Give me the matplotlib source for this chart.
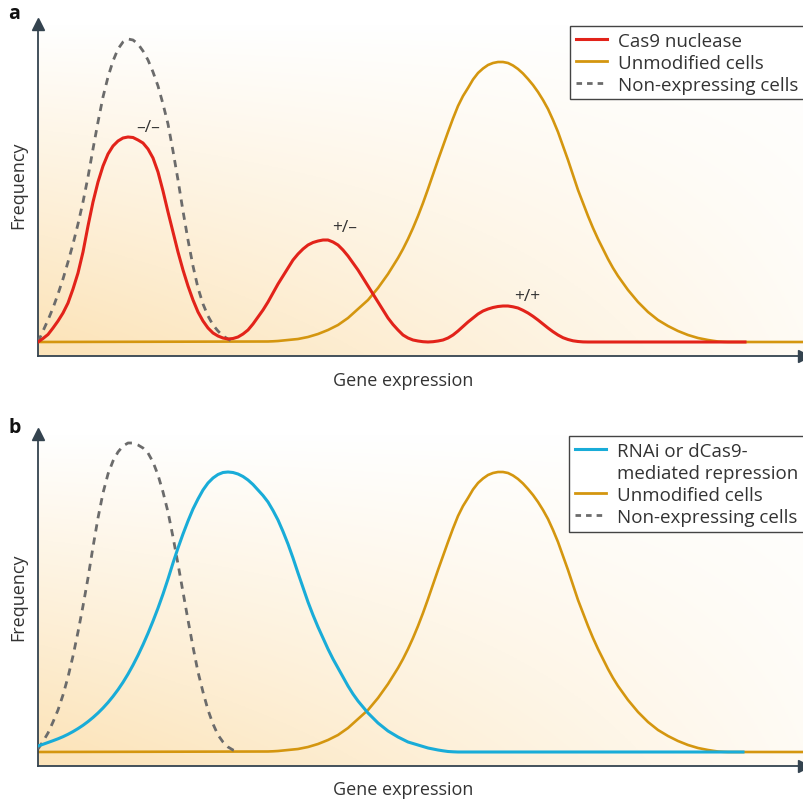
import matplotlib.pyplot as plt
import numpy as np
from matplotlib.lines import Line2D

plt.rcParams['font.family'] = ['Open Sans', 'DejaVu Sans']

# values, gene expression in arbitrary units,
# read every half unit
cas9 = [0, 0.35, 0.75, 1.4, 2.1, 2.9, 3.9, 5.3, 6.9, 9.0, 11.6, 14.0, 16.0, 17.6,
        18.8, 19.6, 20.1, 20.4, 20.5, 20.45, 20.2, 19.9, 19.3, 18.4, 17.0, 15.1,
        13.0, 11.0, 9.0, 7.2, 5.6, 4.2, 3.0, 2.1, 1.4, 0.9, 0.6, 0.4, 0.3, 0.35,
        0.5, 0.8, 1.2, 1.8, 2.5, 3.2, 4.0, 4.9, 5.8, 6.6, 7.4, 8.2, 8.8, 9.3, 9.7,
        9.95, 10.1, 10.2, 10.2, 10.0, 9.7, 9.2, 8.6, 7.9, 7.2, 6.4, 5.6, 4.8, 4.0,
        3.2, 2.4, 1.75, 1.2, 0.7, 0.4, 0.2, 0.1, 0.03, 0, 0.03, 0.1, 0.2, 0.4, 0.7,
        1.1, 1.55, 2.0, 2.4, 2.8, 3.1, 3.3, 3.45, 3.55, 3.6, 3.6, 3.52, 3.4, 3.17,
        2.9, 2.57, 2.2, 1.8, 1.4, 1.03, 0.7, 0.43, 0.25, 0.12, 0.05, 0.01, 0]
cas9_end = 70.7

non_expr_a = [0, 1.1, 2.2, 3.4, 4.8, 6.3, 8.0, 9.8, 11.8, 14.0, 16.5, 19.3, 22.0,
              24.5, 26.5, 28.1, 29.3, 30.0, 30.3, 30.2, 29.8, 29.1, 28.2, 27.0, 25.6,
              23.8, 21.8, 19.1, 16.2, 13.1, 10.2, 7.6, 5.4, 3.8, 2.6, 1.7, 1.1, 0.6,
              0.3, 0]

non_expr_b = [0.3, 1.05, 1.9, 3.0, 4.2, 5.7, 7.5, 9.6, 12.0, 14.6, 17.4, 20.5, 23.4,
              25.9, 27.8, 29.1, 30.0, 30.6, 30.9, 30.9, 30.7, 30.4, 29.9, 29.0, 27.7,
              26.0, 24.0, 21.5, 18.8, 16.0, 13.2, 10.5, 8.0, 6.0, 4.2, 2.8, 1.7, 1.0,
              0.5, 0.2, 0.05]

unmod_start = 23
unmodified = [0.05, 0.07, 0.1, 0.15, 0.2, 0.25, 0.3, 0.4, 0.5, 0.65, 0.8, 1.0, 1.2,
              1.45, 1.7, 2.05, 2.4, 2.85, 3.3, 3.75, 4.2, 4.8, 5.4, 6.1, 6.8, 7.6, 8.4,
              9.3, 10.3, 11.4, 12.6, 13.9, 15.3, 16.75, 18.2, 19.6, 21.0, 22.35, 23.6,
              24.6, 25.4, 26.25, 26.9, 27.35, 27.7, 27.9, 28.0, 28.0, 27.9, 27.65,
              27.3, 26.85, 26.3, 25.7, 25.0, 24.2, 23.3, 22.2, 21.0, 19.6, 18.2, 16.7,
              15.2, 13.9, 12.6, 11.4, 10.3, 9.3, 8.3, 7.4, 6.6, 5.9, 5.2, 4.6, 4.0, 3.5,
              3.0, 2.6, 2.2, 1.9, 1.6, 1.35, 1.1, 0.9, 0.7, 0.55, 0.4, 0.3, 0.2, 0.12,
              0.05, 0.02, 0]
unmod_end = 76.6

rnai = [0.6, 0.77, 0.95, 1.13, 1.32, 1.53, 1.77, 2.04, 2.34, 2.67, 3.04, 3.45, 3.9,
        4.4, 4.95, 5.56, 6.23, 6.97, 7.79, 8.69, 9.67, 10.73, 11.87, 13.09, 14.39,
        15.79, 17.3, 18.9, 20.4, 21.8, 23.1, 24.3, 25.3, 26.2, 26.9, 27.4, 27.75,
        27.95, 28.0, 27.95, 27.8, 27.55, 27.2, 26.75, 26.2, 25.65, 25.0, 24.15, 23.2,
        22.05, 20.8, 19.4, 17.9, 16.45, 15.0, 13.7, 12.5, 11.4, 10.3, 9.3, 8.4, 7.5,
        6.6, 5.8, 5.1, 4.5, 3.9, 3.4, 2.9, 2.5, 2.1, 1.8, 1.5, 1.25, 1.0, 0.85, 0.7,
        0.55, 0.4, 0.3, 0.2, 0.12, 0.05, 0.02, 0]
rnai_end = 70.5

genotypes = ['–/–', '+/–', '+/+']
genotype_x = [11.0, 30.7, 48.9]
genotype_y = [21.5, 11.5, 4.6]

RED = '#e2231a'
ORANGE = '#d4960f'
BLUE = '#19acd8'
GREY = '#6b6b6b'
AXIS = '#34434f'
TEXT = '#333333'


def half_steps(vals, start=0):
    return [start + i * 0.5 for i in range(len(vals))]


def setup(ax):
    # peach-to-white background
    u, v = np.meshgrid(np.linspace(0, 1, 200), np.linspace(0, 1, 200))
    w = np.clip((1 - v) * (1 - 0.85 * u) * 1.05, 0, 1)
    peach = np.array([252, 228, 186]) / 255
    img = 1 - w[..., None] * (1 - peach)
    ax.imshow(img, extent=[0, 1, 0, 1], transform=ax.transAxes, origin='lower',
              aspect='auto', zorder=0)
    ax.set_xlim(0, 76.6)
    ax.set_ylim(-1.4, 31.8)
    for s in ['top', 'right']:
        ax.spines[s].set_visible(False)
    for s in ['left', 'bottom']:
        ax.spines[s].set_color(AXIS)
        ax.spines[s].set_linewidth(1.3)
    ax.set_xticks([])
    ax.set_yticks([])
    ax.plot([0], [1], marker='^', ms=8, color=AXIS, transform=ax.transAxes,
            clip_on=False, zorder=6)
    ax.plot([1], [0], marker='>', ms=8, color=AXIS, transform=ax.transAxes,
            clip_on=False, zorder=6)


def add_legend(ax, handles, labels):
    leg = ax.legend(handles, labels, loc='upper right', bbox_to_anchor=(1.0, 0.994),
                    fontsize=13.5, frameon=True, fancybox=False, edgecolor='#444444',
                    framealpha=1, handlelength=1.65, handletextpad=0.6,
                    borderpad=0.3, labelspacing=0.22, borderaxespad=0)
    leg.get_frame().set_linewidth(1)
    for t in leg.get_texts():
        t.set_color(TEXT)


unmod_x = [0] + half_steps(unmodified, unmod_start) + [unmod_end]
unmod_y = [0] + unmodified + [0]

fig = plt.figure(figsize=(8.04, 8.03), dpi=100)
ax1 = fig.add_axes([38 / 804, 1 - 357 / 803, 1 - 38 / 804, 332 / 803])
ax2 = fig.add_axes([38 / 804, 1 - 767 / 803, 1 - 38 / 804, 332 / 803])
setup(ax1)
setup(ax2)

# panel a
ax1.plot(unmod_x, unmod_y, color=ORANGE, lw=1.9, zorder=2)
ax1.plot(half_steps(non_expr_a), non_expr_a, color=GREY, lw=2, ls=(0, (2.6, 2.2)),
         zorder=3)
ax1.plot(half_steps(cas9) + [cas9_end], cas9 + [0], color=RED, lw=2.2, zorder=4)
for g, gx, gy in zip(genotypes, genotype_x, genotype_y):
    ax1.text(gx, gy, g, ha='center', va='center', fontsize=12.5, color=TEXT)

add_legend(ax1,
           [Line2D([], [], color=RED, lw=2.2), Line2D([], [], color=ORANGE, lw=2),
            Line2D([], [], color=GREY, lw=2, ls=(0, (2, 1.8)))],
           ['Cas9 nuclease', 'Unmodified cells', 'Non-expressing cells'])

# panel b
ax2.plot(unmod_x, unmod_y, color=ORANGE, lw=1.9, zorder=2)
ax2.plot(half_steps(non_expr_b), non_expr_b, color=GREY, lw=2, ls=(0, (2.6, 2.2)),
         zorder=3)
ax2.plot(half_steps(rnai) + [rnai_end], rnai + [0], color=BLUE, lw=2.2, zorder=4)

add_legend(ax2,
           [Line2D([], [], color=BLUE, lw=2.2), Line2D([], [], color='none'),
            Line2D([], [], color=ORANGE, lw=2),
            Line2D([], [], color=GREY, lw=2, ls=(0, (2, 1.8)))],
           ['RNAi or dCas9-', 'mediated repression', 'Unmodified cells',
            'Non-expressing cells'])

# labels
for yc, lab in [(14, 'a'), (428, 'b')]:
    fig.text(8 / 804, 1 - yc / 803, lab, fontsize=14, fontweight='bold',
             color='#111111', va='center')
for yc in [381, 790]:
    fig.text(403 / 804, 1 - yc / 803, 'Gene expression', ha='center', va='center',
             fontsize=13, color=TEXT)
for yc in [185, 597]:
    fig.text(18 / 804, 1 - yc / 803, 'Frequency', ha='center', va='center',
             rotation=90, fontsize=13, color=TEXT)

fig.savefig('out.png', dpi=100)
